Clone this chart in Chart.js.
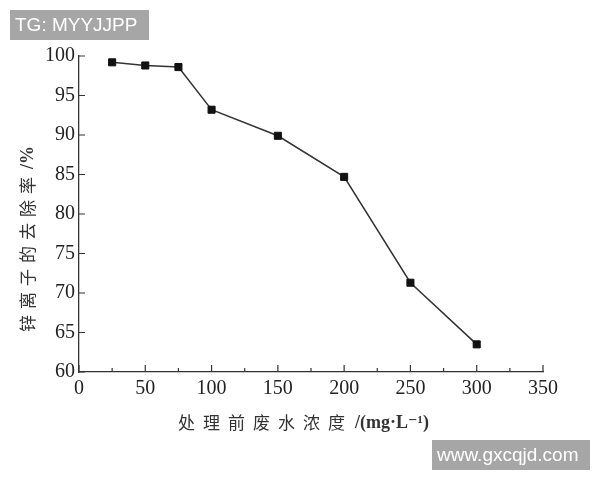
<!DOCTYPE html>
<html>
<head>
<meta charset="utf-8">
<script src="https://cdn.jsdelivr.net/npm/chart.js@4/dist/chart.umd.min.js"></script>
<style>
  html, body { margin: 0; padding: 0; background: #fff; }
  #wrap { width: 600px; height: 480px; position: relative; }
</style>
</head>
<body>
<div id="wrap"><canvas id="myChart" width="600" height="480"></canvas></div>
<script>
// data
const concentration = [25, 50, 75, 100, 150, 200, 250, 300];   // mg/L
const removalRate = [99.2, 98.8, 98.6, 93.2, 89.9, 84.7, 71.3, 63.5]; // %

// axis ranges and tick labels
const xTicks = [0, 50, 100, 150, 200, 250, 300, 350];
const yTicks = [60, 65, 70, 75, 80, 85, 90, 95, 100];

// texts
const xTitleCjk = "处理前废水浓度";
const xTitleUnit = "/(mg·L⁻¹)";
const yTitleCjk = "锌离子的去除率";
const yTitleUnit = "/%";
const markTopLeft = "TG: MYYJJPP";
const markBottomRight = "www.gxcqjd.com";

const axisColor = '#333';
const serif = "'Liberation Serif', 'DejaVu Serif', serif";
const cjk = "'Noto Sans CJK SC', sans-serif";

// inward tick marks, minor ticks on x, axis titles and the two grey stamps
const extras = {
    id: 'extras',
    afterDraw(chart) {
        const ctx = chart.ctx;
        const x = chart.scales.x, y = chart.scales.y;
        const area = chart.chartArea;
        ctx.save();
        ctx.strokeStyle = axisColor;
        ctx.lineWidth = 1.2;
        ctx.beginPath();
        // y ticks pointing right
        yTicks.forEach(v => {
            const py = y.getPixelForValue(v);
            ctx.moveTo(area.left, py);
            ctx.lineTo(area.left + 6, py);
        });
        // x ticks pointing up, minor every 25
        for (let v = xTicks[0]; v <= xTicks[xTicks.length - 1]; v += 25) {
            const px = x.getPixelForValue(v);
            const len = v % 50 === 0 ? 7 : 4;
            ctx.moveTo(px, area.bottom);
            ctx.lineTo(px, area.bottom - len);
        }
        ctx.stroke();

        // x title
        ctx.fillStyle = '#333';
        ctx.textBaseline = 'middle';
        ctx.textAlign = 'left';
        ctx.font = "17px " + cjk;
        ctx.letterSpacing = '8px';
        ctx.fillText(xTitleCjk, 178, 423);
        let w = ctx.measureText(xTitleCjk).width;
        ctx.letterSpacing = '0px';
        ctx.font = "bold 18px " + serif;
        ctx.fillText(xTitleUnit, 178 + w + 2, 423);

        // y title, rotated
        ctx.save();
        ctx.translate(28, 332);
        ctx.rotate(-Math.PI / 2);
        ctx.font = "17px " + cjk;
        ctx.letterSpacing = '6px';
        ctx.fillText(yTitleCjk, 0, 0);
        w = ctx.measureText(yTitleCjk).width;
        ctx.letterSpacing = '0px';
        ctx.font = "bold 18px " + serif;
        ctx.fillText(yTitleUnit, w + 2, 0);
        ctx.restore();

        // stamps
        ctx.fillStyle = '#a6a6a6';
        ctx.fillRect(10, 10, 139, 30);
        ctx.fillRect(432, 440, 158, 30);
        ctx.fillStyle = '#fff';
        ctx.font = "19px 'Liberation Sans', Arial, sans-serif";
        ctx.fillText(markTopLeft, 15, 26);
        ctx.fillText(markBottomRight, 437, 456);
        ctx.restore();
    }
};

const ctx = document.getElementById('myChart').getContext('2d');
const myChart = new Chart(ctx, {
    type: 'line',
    data: {
        datasets: [{
            data: concentration.map((c, i) => ({ x: c, y: removalRate[i] })),
            borderColor: '#333',
            borderWidth: 1.5,
            pointStyle: 'rect',
            pointRadius: 5,
            pointBackgroundColor: '#111',
            pointBorderColor: '#111',
            pointBorderWidth: 1,
            tension: 0
        }]
    },
    options: {
        responsive: false,
        animation: false,
        devicePixelRatio: 1,
        layout: { padding: { left: 0, right: 57, top: 56, bottom: 68 } },
        plugins: { legend: { display: false }, tooltip: { enabled: false } },
        scales: {
            x: {
                type: 'linear',
                min: xTicks[0],
                max: xTicks[xTicks.length - 1],
                afterBuildTicks: s => { s.ticks = xTicks.map(v => ({ value: v })); },
                grid: { display: false, drawTicks: false },
                border: { display: true, color: axisColor, width: 1.3 },
                ticks: { padding: 5, color: '#222', font: { family: serif, size: 20 }, maxRotation: 0, autoSkip: false },
                afterFit: s => { s.height = 40; }
            },
            y: {
                min: yTicks[0],
                max: yTicks[yTicks.length - 1],
                afterBuildTicks: s => { s.ticks = yTicks.map(v => ({ value: v })); },
                grid: { display: false, drawTicks: false },
                border: { display: true, color: axisColor, width: 1.3 },
                ticks: { padding: 4, color: '#222', font: { family: serif, size: 20 }, autoSkip: false },
                afterFit: s => { s.width = 79; }
            }
        }
    },
    plugins: [extras]
});
</script>
</body>
</html>
